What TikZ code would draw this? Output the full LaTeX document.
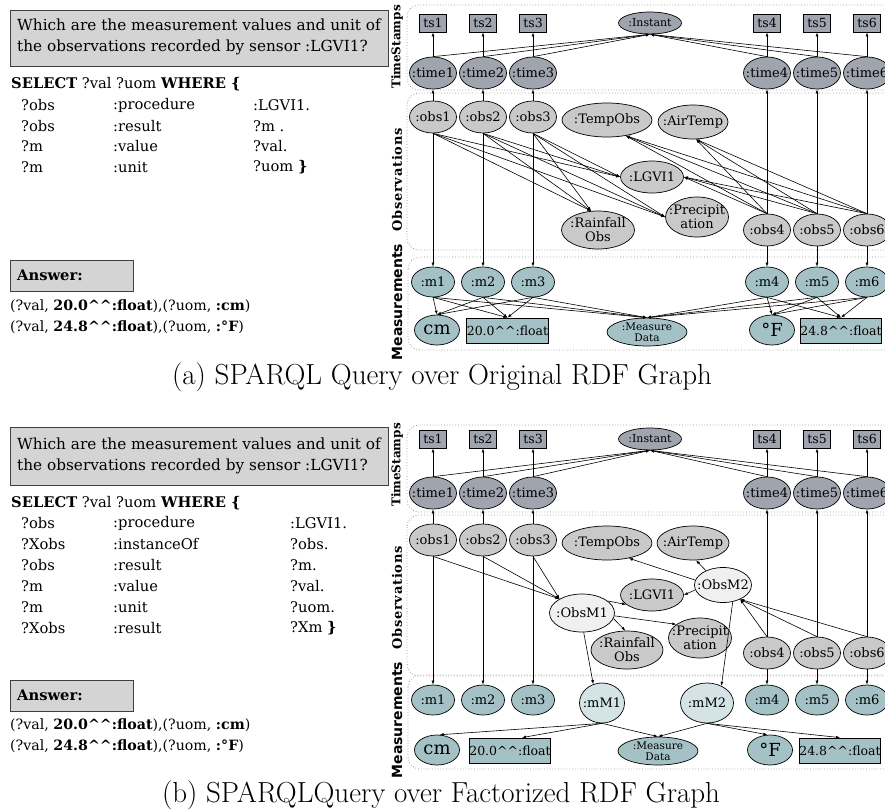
\documentclass[tikz,border=0pt]{standalone}
\usepackage{fontspec}
\setmainfont{DejaVu Serif}
\setsansfont{DejaVu Sans}
\newfontfamily\capfont{Latin Modern Roman}
\usetikzlibrary{shapes.geometric,arrows.meta,calc}

\definecolor{timefill}{HTML}{9FA4AF}
\definecolor{obsfill}{HTML}{C9C9C9}
\definecolor{mfill}{HTML}{A4C2C5}
\definecolor{qfill}{HTML}{D4D4D4}
\definecolor{obsmfill}{HTML}{F0F0F0}
\definecolor{mmfill}{HTML}{D4E4E6}
\definecolor{regline}{HTML}{9A9A9A}

\newcommand\carets{\textasciicircum\textasciicircum}

\tikzset{
  nfont/.style={font=\fontsize{13}{14}\selectfont},
  % ellipse size comes from minimum width/height only
  ell/.style={ellipse, draw=black, line width=0.7pt, inner xsep=-12pt, inner ysep=-4pt, nfont, align=center},
  tsbox/.style={rectangle, draw=black, line width=0.9pt, fill=timefill, minimum width=27pt, minimum height=18pt, inner sep=0pt, font=\fontsize{12.5}{13}\selectfont},
  timenode/.style={ell, fill=timefill, minimum width=47pt, minimum height=32pt},
  instnode/.style={ell, fill=timefill, minimum width=63pt, minimum height=22pt, font=\fontsize{11}{12}\selectfont},
  obsnode/.style={ell, fill=obsfill, minimum width=47pt, minimum height=32pt},
  classnode/.style={ell, fill=obsfill},
  obsmnode/.style={ell, fill=obsmfill},
  mnode/.style={ell, fill=mfill, minimum width=43pt, minimum height=30pt},
  mmnode/.style={ell, fill=mmfill, minimum height=40pt},
  unitnode/.style={ell, fill=mfill, minimum width=45pt, minimum height=30pt, font=\fontsize{18}{19}\selectfont},
  mdnode/.style={ell, fill=mfill, minimum width=80pt, minimum height=28pt, font=\fontsize{10.5}{11.5}\selectfont},
  litbox/.style={rectangle, draw=black, line width=0.8pt, fill=mfill, minimum height=25pt, inner sep=0pt, font=\fontsize{12.5}{13}\selectfont},
  region/.style={draw=regline, dotted, line width=0.8pt, rounded corners=12pt},
  layer/.style={rotate=90, inner sep=0pt, font=\fontsize{12}{13}\selectfont\bfseries},
  layerobs/.style={layer, font=\fontsize{13}{14}\selectfont\bfseries\addfontfeature{LetterSpace=6}},
  layersans/.style={layer, font=\fontsize{14}{15}\selectfont\sffamily\bfseries},
  edge/.style={-{Latex[length=4pt,width=3pt]}, line width=0.6pt},
  qbox/.style={draw=black!75, line width=0.8pt, fill=qfill, inner sep=0pt},
  qhead/.style={anchor=west, inner sep=0pt, font=\fontsize{15.3}{22}\selectfont},
  qtext/.style={anchor=west, inner sep=0pt, font=\fontsize{14.7}{22}\selectfont},
  anstext/.style={anchor=west, inner sep=0pt, font=\fontsize{14.2}{16}\selectfont},
  captext/.style={inner sep=0pt, font=\capfont\fontsize{29}{32}\selectfont},
}

\begin{document}
\begin{tikzpicture}[x=1pt,y=-1pt]
\useasboundingbox (0,0) rectangle (885,811);
\clip (0,0) rectangle (885,811);

%% ---------- (a) query text ----------
\node[qbox, anchor=north west, minimum width=378pt, minimum height=56pt] (aq) at (10,10) {};
\node[qhead] (aq1) at (17,25) {Which are the measurement values and unit of};
\node[qhead] (aq2) at (17,47) {the observations recorded by sensor :LGVI1?};
\node[qtext] (asel) at (11,84) {\textbf{SELECT} ?val ?uom \textbf{WHERE \{}};
\node[qtext] (ar1a) at (21,105) {?obs};  \node[qtext] (ar1b) at (113,105) {:procedure}; \node[qtext] (ar1c) at (253,105) {:LGVI1.};
\node[qtext] (ar2a) at (21,126) {?obs};  \node[qtext] (ar2b) at (113,126) {:result};    \node[qtext] (ar2c) at (253,126) {?m .};
\node[qtext] (ar3a) at (21,146) {?m};    \node[qtext] (ar3b) at (113,146) {:value};     \node[qtext] (ar3c) at (253,146) {?val.};
\node[qtext] (ar4a) at (21,167) {?m};    \node[qtext] (ar4b) at (113,167) {:unit};      \node[qtext] (ar4c) at (253,167) {?uom \textbf{\}}};
\node[qbox, anchor=north west, minimum width=123pt, minimum height=31pt] (aans) at (10,260) {};
\node[qtext] (aanst) at (17,275) {\textbf{Answer:}};
\node[anstext] (aan1) at (10,306) {(?val, \textbf{20.0\carets:float}),(?uom, \textbf{:cm})};
\node[anstext] (aan2) at (10,327) {(?val, \textbf{24.8\carets:float}),(?uom, \textbf{:°F})};
\node[captext] (acap) at (442,377) {(a) SPARQL Query over Original RDF Graph};

%% ---------- (a) graph ----------
\draw[region] (407,5) rectangle (910,90);
\draw[region] (407,93) rectangle (910,250);
\draw[region] (408,257) rectangle (910,350);
\node[layer] (alabT) at (397,47) {TimeStamps};
\node[layerobs] (alabO) at (397,180) {Observations};
\node[layersans] (alabM) at (397,302) {Measurements};

\node[instnode] (aInst) at (650,23) {:Instant};
\node[classnode, minimum width=90pt, minimum height=34pt] (aTemp) at (607,120) {:TempObs};
\node[classnode, minimum width=70pt, minimum height=34pt] (aAir) at (693,122) {:AirTemp};
\node[classnode, minimum width=63pt, minimum height=32pt] (aLGVI) at (652,177) {:LGVI1};
\node[classnode, minimum width=63pt, minimum height=40pt] (aPrec) at (697,217) {:Precipit\\ation};
\node[classnode, minimum width=73pt, minimum height=38pt] (aRain) at (598,230) {:Rainfall\\Obs};
\node[unitnode] (acm) at (437,330) {cm};
\node[litbox, minimum width=75pt] (af20) at (507.5,330.5) {20.0\carets:float};
\node[mdnode] (aMD) at (647,332) {:Measure\\Data};
\node[unitnode] (aF) at (772,330) {°F};
\node[litbox, minimum width=78pt] (af24) at (841,330.5) {24.8\carets:float};

\foreach \i/\xx/\yo in {1/433/117,2/483/117,3/533/117,4/767/230,5/817/230,6/867/230} {
  \node[tsbox] (ats\i) at (\xx,23) {ts\i};
  \node[timenode] (atime\i) at (\xx,73) {:time\i};
  \node[obsnode] (aobs\i) at (\xx,\yo) {:obs\i};
  \node[mnode] (am\i) at (\xx,282) {:m\i};
  \draw[edge] (atime\i.north) -- (ats\i.south);
  \draw[edge] (atime\i.north) -- (aInst.south);
  \draw[edge] (aobs\i.north) -- (atime\i.south);
  \draw[edge] (aobs\i.south) -- (am\i.north);
}
\foreach \i in {1,2,3} {
  \draw[edge] (aobs\i.south) -- (aLGVI.west);
  \draw[edge] (aobs\i.south) -- (aRain.110);
  \draw[edge] (aobs\i.south) -- (aPrec.west);
  \draw[edge] (am\i.south) -- (acm.north);
  \draw[edge] (am\i.south) -- (af20.north);
  \draw[edge] (am\i.south) -- (aMD.north);
}
\foreach \i in {4,5,6} {
  \draw[edge] (aobs\i.north) -- (aLGVI.east);
  \draw[edge] (aobs\i.north) -- (aTemp.-40);
  \draw[edge] (aobs\i.north) -- (aAir.-80);
  \draw[edge] (am\i.south) -- (aF.north);
  \draw[edge] (am\i.south) -- (af24.north);
  \draw[edge] (am\i.south) -- (aMD.north);
}

%% ---------- (b) query text ----------
\node[qbox, anchor=north west, minimum width=378pt, minimum height=58pt] (bq) at (10,427) {};
\node[qhead] (bq1) at (17,444) {Which are the measurement values and unit of};
\node[qhead] (bq2) at (17,466) {the observations recorded by sensor :LGVI1?};
\node[qtext] (bsel) at (11,503) {\textbf{SELECT} ?val ?uom \textbf{WHERE \{}};
\node[qtext] (br1a) at (21,523) {?obs};   \node[qtext] (br1b) at (113,523) {:procedure};  \node[qtext] (br1c) at (290,523) {:LGVI1.};
\node[qtext] (br2a) at (21,544) {?Xobs};  \node[qtext] (br2b) at (113,544) {:instanceOf}; \node[qtext] (br2c) at (290,544) {?obs.};
\node[qtext] (br3a) at (21,565) {?obs};   \node[qtext] (br3b) at (113,565) {:result};     \node[qtext] (br3c) at (290,565) {?m.};
\node[qtext] (br4a) at (21,586) {?m};     \node[qtext] (br4b) at (113,586) {:value};      \node[qtext] (br4c) at (290,586) {?val.};
\node[qtext] (br5a) at (21,607) {?m};     \node[qtext] (br5b) at (113,607) {:unit};       \node[qtext] (br5c) at (290,607) {?uom.};
\node[qtext] (br6a) at (21,628) {?Xobs};  \node[qtext] (br6b) at (113,628) {:result};     \node[qtext] (br6c) at (290,628) {?Xm \textbf{\}}};
\node[qbox, anchor=north west, minimum width=123pt, minimum height=31pt] (bans) at (10,680) {};
\node[qtext] (banst) at (17,695) {\textbf{Answer:}};
\node[anstext] (ban1) at (10,725) {(?val, \textbf{20.0\carets:float}),(?uom, \textbf{:cm})};
\node[anstext] (ban2) at (10,746) {(?val, \textbf{24.8\carets:float}),(?uom, \textbf{:°F})};
\node[captext] (bcap) at (441,795) {(b) SPARQLQuery over Factorized RDF Graph};

%% ---------- (b) graph ----------
\draw[region] (407,425) rectangle (910,512);
\draw[region] (407,515) rectangle (910,676);
\draw[region] (408,675) rectangle (910,769);
\node[layer] (blabT) at (397,465) {TimeStamps};
\node[layerobs] (blabO) at (397,598) {Observations};
\node[layersans] (blabM) at (397,720) {Measurements};

\node[instnode] (bInst) at (650,439) {:Instant};
\node[classnode, minimum width=90pt, minimum height=34pt] (bTemp) at (607,543) {:TempObs};
\node[classnode, minimum width=72pt, minimum height=34pt] (bAir) at (693,543) {:AirTemp};
\node[classnode, minimum width=63pt, minimum height=32pt] (bLGVI) at (652,595) {:LGVI1};
\node[obsmnode, minimum width=57pt, minimum height=35pt] (bObsM2) at (723,585) {:ObsM2};
\node[obsmnode, minimum width=65pt, minimum height=38pt] (bObsM1) at (582,613) {:ObsM1};
\node[classnode, minimum width=63pt, minimum height=40pt] (bPrec) at (700,638) {:Precipit\\ation};
\node[classnode, minimum width=72pt, minimum height=38pt] (bRain) at (627,650) {:Rainfall\\Obs};
\node[mmnode, minimum width=45pt] (bmM1) at (602,703) {:mM1};
\node[mmnode, minimum width=53pt] (bmM2) at (707,703) {:mM2};
\node[unitnode] (bcm) at (437,750) {cm};
\node[litbox, minimum width=80pt] (bf20) at (510,750.5) {20.0\carets:float};
\node[mdnode] (bMD) at (658,751) {:Measure\\Data};
\node[unitnode] (bF) at (770,750) {°F};
\node[litbox, minimum width=80pt] (bf24) at (840,750.5) {24.8\carets:float};

\foreach \i/\xx/\yo in {1/433/540,2/483/540,3/533/540,4/767/653,5/817/653,6/867/653} {
  \node[tsbox] (bts\i) at (\xx,439) {ts\i};
  \node[timenode] (btime\i) at (\xx,493) {:time\i};
  \node[obsnode] (bobs\i) at (\xx,\yo) {:obs\i};
  \node[mnode] (bm\i) at (\xx,700) {:m\i};
  \draw[edge] (btime\i.north) -- (bts\i.south);
  \draw[edge] (btime\i.north) -- (bInst.south);
  \draw[edge] (bobs\i.north) -- (btime\i.south);
  \draw[edge] (bobs\i.south) -- (bm\i.north);
}
\foreach \i in {1,2,3} {
  \draw[edge] (bobs\i.south) -- (bObsM1.148);
}
\foreach \i in {4,5,6} {
  \draw[edge] (bobs\i.north) -- (bObsM2.-40);
}
\draw[edge] (bObsM1.25) -- (bLGVI.200);
\draw[edge] (bObsM1.-10) -- (bRain.95);
\draw[edge] (bObsM1.-5) -- (bPrec.150);
\draw[edge] (bObsM2.170) -- (bTemp.-35);
\draw[edge] (bObsM2.140) -- (bAir.-80);
\draw[edge] (bObsM2.190) -- (bLGVI.east);
\draw[edge] (bObsM1.-85) -- (bmM1.115);
\draw[edge] (bObsM2.-60) -- (bmM2.50);
\draw[edge] (bmM1.south) -- (bcm.80);
\draw[edge] (bmM1.south) -- ($(bf20.north)+(12,0)$);
\draw[edge] (bmM1.south) -- (bMD.north);
\draw[edge] (bmM2.south) -- (bMD.north);
\draw[edge] (bmM2.south) -- (bF.100);
\draw[edge] (bmM2.south) -- (bf24.north);
\end{tikzpicture}
\end{document}
